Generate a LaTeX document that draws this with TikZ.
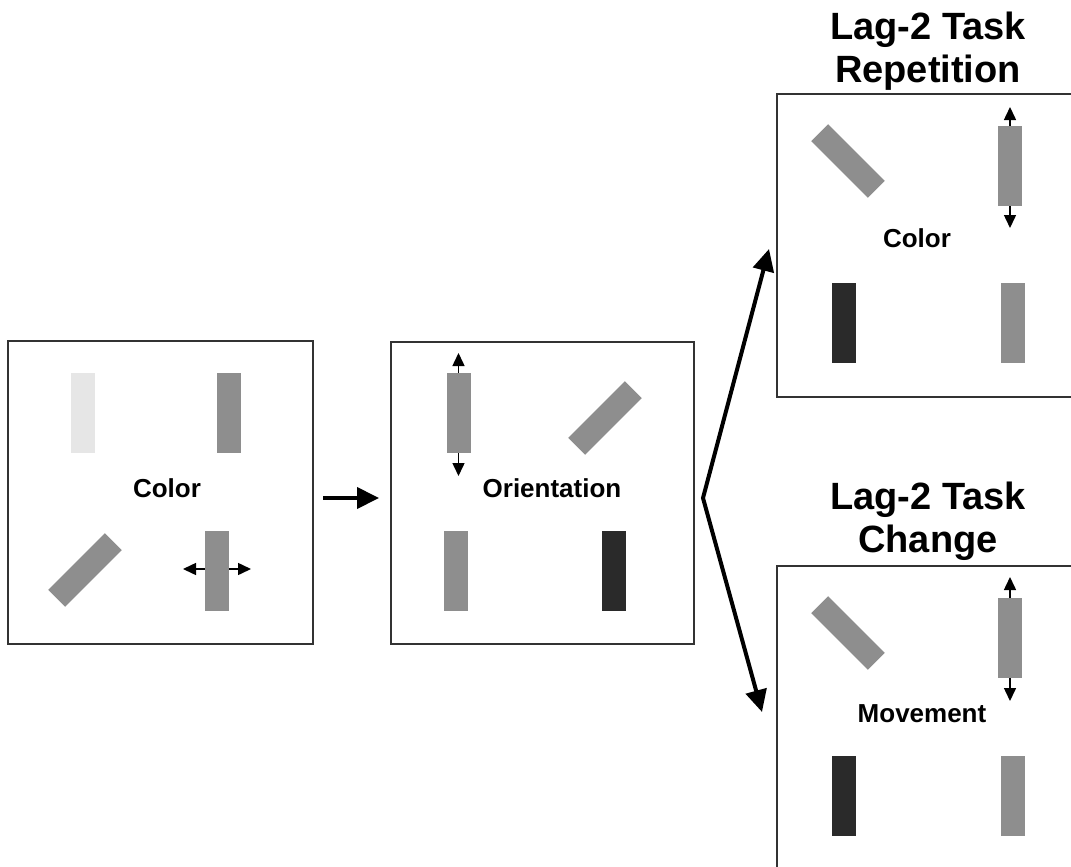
\documentclass[tikz,border=0pt]{standalone}
\usepackage{fontspec}
\setmainfont{Liberation Sans}
\usetikzlibrary{arrows.meta}
\definecolor{lightbar}{HTML}{E6E6E6}
\definecolor{midbar}{HTML}{8E8E8E}
\definecolor{darkbar}{HTML}{2A2A2A}
\definecolor{boxline}{HTML}{333333}
\begin{document}
\begin{tikzpicture}[x=1pt,y=-1pt,
  box/.style={draw=boxline,line width=1.3pt,inner sep=0pt,rectangle},
  bar/.style={rectangle,inner sep=0pt,minimum width=24pt,minimum height=80pt,draw=none},
  lbar/.style={bar,fill=lightbar},
  mbar/.style={bar,fill=midbar},
  dbar/.style={bar,fill=darkbar},
  lbl/.style={font=\bfseries\fontsize{26}{31}\selectfont,inner sep=0pt,anchor=base},
  ttl/.style={font=\bfseries\fontsize{38}{44}\selectfont,inner sep=0pt,anchor=base},
  sarr/.style={line width=1.5pt,-{Triangle[length=13pt,width=12pt]}},
  barr/.style={line width=4pt,-{Triangle[length=22pt,width=21pt]}},
  barr2/.style={line width=4pt,line join=miter,{Triangle[length=22pt,width=21pt]}-{Triangle[length=22pt,width=21pt]}}
]
\useasboundingbox[fill=white] (0,0) rectangle (1071,867);

% boxes
\node[box,minimum width=305pt,minimum height=303pt] (box1) at (160.5,492.5) {};
\node[box,minimum width=303pt,minimum height=302pt] (box2) at (542.5,493) {};
\node[box,minimum width=303pt,minimum height=303pt] (box3) at (928.5,245.5) {};
\node[box,minimum width=303pt,minimum height=303pt] (box4) at (928.5,717.5) {};

% box 1
\node[lbar] (b1a) at (83,413) {};
\node[mbar] (b1b) at (228.5,413) {};
\node[mbar,rotate=-45] (b1c) at (85,570) {};
\draw[sarr] (216.5,569) -- (183,569);
\draw[sarr] (216.5,569) -- (251,569);
\node[mbar] (b1d) at (216.5,570.5) {};
\node[lbl] (l1) at (167,497) {Color};

% box 2
\draw[sarr] (458.5,413) -- (458.5,353);
\draw[sarr] (458.5,413) -- (458.5,476);
\node[mbar] (b2a) at (458.5,413) {};
\node[mbar,rotate=-45] (b2b) at (605,418) {};
\node[mbar] (b2c) at (456,570.5) {};
\node[dbar] (b2d) at (613.5,570.5) {};
\node[lbl] (l2) at (552,497) {Orientation};

% box 3
\node[ttl] (t3a) at (928,40) {Lag-2 Task};
\node[ttl] (t3b) at (928,82) {Repetition};
\node[mbar,rotate=45] (b3a) at (848,161) {};
\draw[sarr] (1010,166) -- (1010,107);
\draw[sarr] (1010,166) -- (1010,228);
\node[mbar] (b3b) at (1010,166) {};
\node[dbar] (b3c) at (843.5,323) {};
\node[mbar] (b3d) at (1012.5,323) {};
\node[lbl] (l3) at (917,247) {Color};

% box 4
\node[ttl] (t4a) at (928,509) {Lag-2 Task};
\node[ttl] (t4b) at (928,552) {Change};
\node[mbar,rotate=45] (b4a) at (848,633) {};
\draw[sarr] (1010,637.5) -- (1010,577);
\draw[sarr] (1010,637.5) -- (1010,701);
\node[mbar] (b4b) at (1010,637.5) {};
\node[dbar] (b4c) at (843.5,795.5) {};
\node[mbar] (b4d) at (1012.5,795.5) {};
\node[lbl] (l4) at (922,722) {Movement};

% connectors
\coordinate (a1s) at (323,498);
\coordinate (a1e) at (379,498);
\draw[barr] (a1s) -- (a1e);
\coordinate (fork) at (703,498);
\coordinate (upTip) at (769,249);
\coordinate (downTip) at (762,712);
\draw[barr2] (upTip) -- (fork) -- (downTip);
\end{tikzpicture}
\end{document}
